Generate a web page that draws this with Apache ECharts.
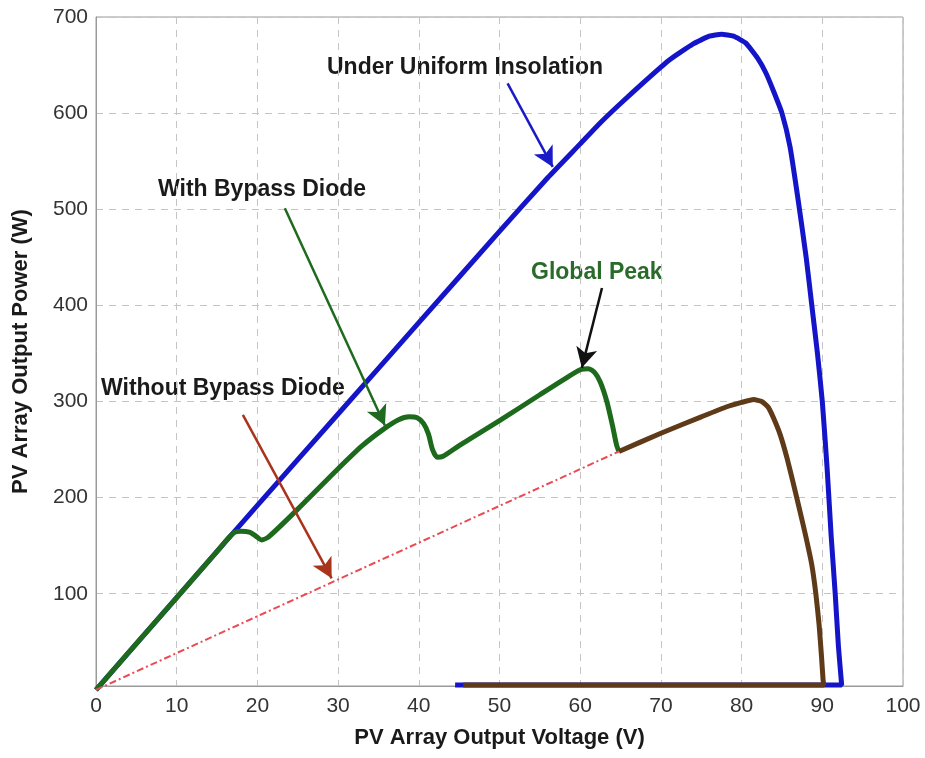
<!DOCTYPE html>
<html><head><meta charset="utf-8">
<script src="https://cdn.jsdelivr.net/npm/echarts@6/dist/echarts.min.js"></script>
<style>html,body{margin:0;padding:0;background:#fff}#c{width:925px;height:758px}</style>
</head><body><div id="c"></div>
<script>
// ---- data ----
const xTicks = [0,10,20,30,40,50,60,70,80,90,100];
const yTicks = [100,200,300,400,500,600,700];

// Under uniform insolation (blue)
const uniformV = [0,10,20,30,40,50,56,60,62.5,65,68,71,74,76,77.5,79,80.5,82,83,84,85,86,87,88,88.7,89.4,90,90.6,91.1,91.6,92,92.4,44.5];
const uniformP = [0,96,192,287,382,477,533,568,590,610,633,655,672,680,682,680,673,657,642,622,600,565,510,450,400,350,300,230,160,100,45,5,5];

// With bypass diode (green)
const bypassV = [0,5,10,15,17,18,19,19.8,20.5,21.5,25,30,33,35.6,37.5,38.8,39.8,40.6,41.2,41.7,42.3,43,45,50,55,58,60,61,61.8,62.5,63.3,64,64.5,64.8];
const bypassP = [0,48,96,144,163,165,164,160,156,160,188,230,254,271,281,284,283,277,266,250,242,243,254,280,307,323,333,334,330,320,300,275,255,248];

// Without bypass diode (brown solid part)
const noBypassV = [64.8,70,75,78,80,81.5,82.5,83.3,84,84.8,85.6,86.4,87.2,88,88.7,89.2,89.6,89.9,90.1,90.2,45.5];
const noBypassP = [248,267,284,294,299,302,300,294,282,265,242,215,187,158,130,100,68,35,10,5,5];

// Without bypass diode (red dash-dot part)
const noBypassLowV = [0,64.8];
const noBypassLowP = [0,248];

// Annotation arrows: [fromV, fromP, toV, toP]
const arrowUniform = [51.0,631,56.6,544];
const arrowBypass = [23.4,501,35.8,275];
const arrowPeak = [62.7,418,60.2,335];
const arrowNoBypass = [18.2,286,29.2,116];

const zip = (a,b) => a.map((v,i) => [v,b[i]]);

const chart = echarts.init(document.getElementById('c'));
const font = '"Liberation Sans", Arial, Helvetica, sans-serif';

function arrow(a, color){
  return [{coord:[a[0],a[1]], lineStyle:{color:color}, itemStyle:{color:color}}, {coord:[a[2],a[3]]}];
}

chart.setOption({
  animation:false,
  backgroundColor:'#fff',
  grid:{left:96,right:22,top:17,bottom:72,show:true,borderColor:'#9a9a9a',borderWidth:1,backgroundColor:'#fff'},
  xAxis:{
    type:'value',min:0,max:100,interval:10,
    name:'PV Array Output Voltage (V)',nameLocation:'middle',nameGap:41,
    nameTextStyle:{fontFamily:font,fontWeight:'bold',fontSize:22,color:'#1a1a1a'},
    axisLine:{show:true,lineStyle:{color:'#9a9a9a',width:1}},
    axisTick:{show:false},
    axisLabel:{fontFamily:font,fontSize:21,color:'#333',margin:10,formatter:v=>xTicks.includes(v)?String(v):''},
    splitLine:{show:true,lineStyle:{color:'#c4c4c4',type:[7,6],width:1}}
  },
  yAxis:{
    type:'value',min:4,max:700,
    name:'PV Array Output Power (W)',nameLocation:'middle',nameGap:64,nameRotate:90,
    nameTextStyle:{fontFamily:font,fontWeight:'bold',fontSize:22,color:'#1a1a1a'},
    axisLine:{show:true,lineStyle:{color:'#9a9a9a',width:1}},
    axisTick:{show:false,customValues:yTicks},
    axisLabel:{fontFamily:font,fontSize:21,color:'#333',margin:8,customValues:yTicks},
    splitLine:{show:true,lineStyle:{color:'#c4c4c4',type:[7,6],width:1}}
  },
  series:[
    {type:'line',name:'Uniform',data:zip(uniformV,uniformP),showSymbol:false,smooth:0.15,clip:false,
     lineStyle:{color:'#1414c8',width:5},z:2},
    {type:'line',name:'With Bypass',data:zip(bypassV,bypassP),showSymbol:false,smooth:0.25,clip:false,
     lineStyle:{color:'#1d6a1d',width:5},z:3},
    {type:'line',name:'Without Bypass',data:zip(noBypassV,noBypassP),showSymbol:false,smooth:0.15,clip:false,
     lineStyle:{color:'#5f3a18',width:5},z:4},
    {type:'line',name:'Without Bypass low',data:zip(noBypassLowV,noBypassLowP),showSymbol:false,clip:false,
     lineStyle:{color:'#ea4a52',width:2,type:[7,3,2,3]},z:5},
    {type:'line',name:'arrows',data:[],z:6,
     markLine:{silent:true,symbol:['none','arrow'],symbolSize:[16,20],label:{show:false},
       lineStyle:{width:2.5,type:'solid'},
       data:[arrow(arrowUniform,'#1a1ac8'),arrow(arrowBypass,'#1f6a1f'),arrow(arrowPeak,'#111'),arrow(arrowNoBypass,'#a8341c')]}}
  ],
  graphic:[
    {type:'text',left:327,top:56,style:{text:'Under Uniform Insolation',font:'bold 23px '+font,fill:'#1a1a1a'}},
    {type:'text',left:158,top:178,style:{text:'With Bypass Diode',font:'bold 23px '+font,fill:'#1a1a1a'}},
    {type:'text',left:531,top:261,style:{text:'Global Peak',font:'bold 23px '+font,fill:'#2a6a2a'}},
    {type:'text',left:101,top:377,style:{text:'Without Bypass Diode',font:'bold 23px '+font,fill:'#1a1a1a'}}
  ]
});
</script></body></html>
